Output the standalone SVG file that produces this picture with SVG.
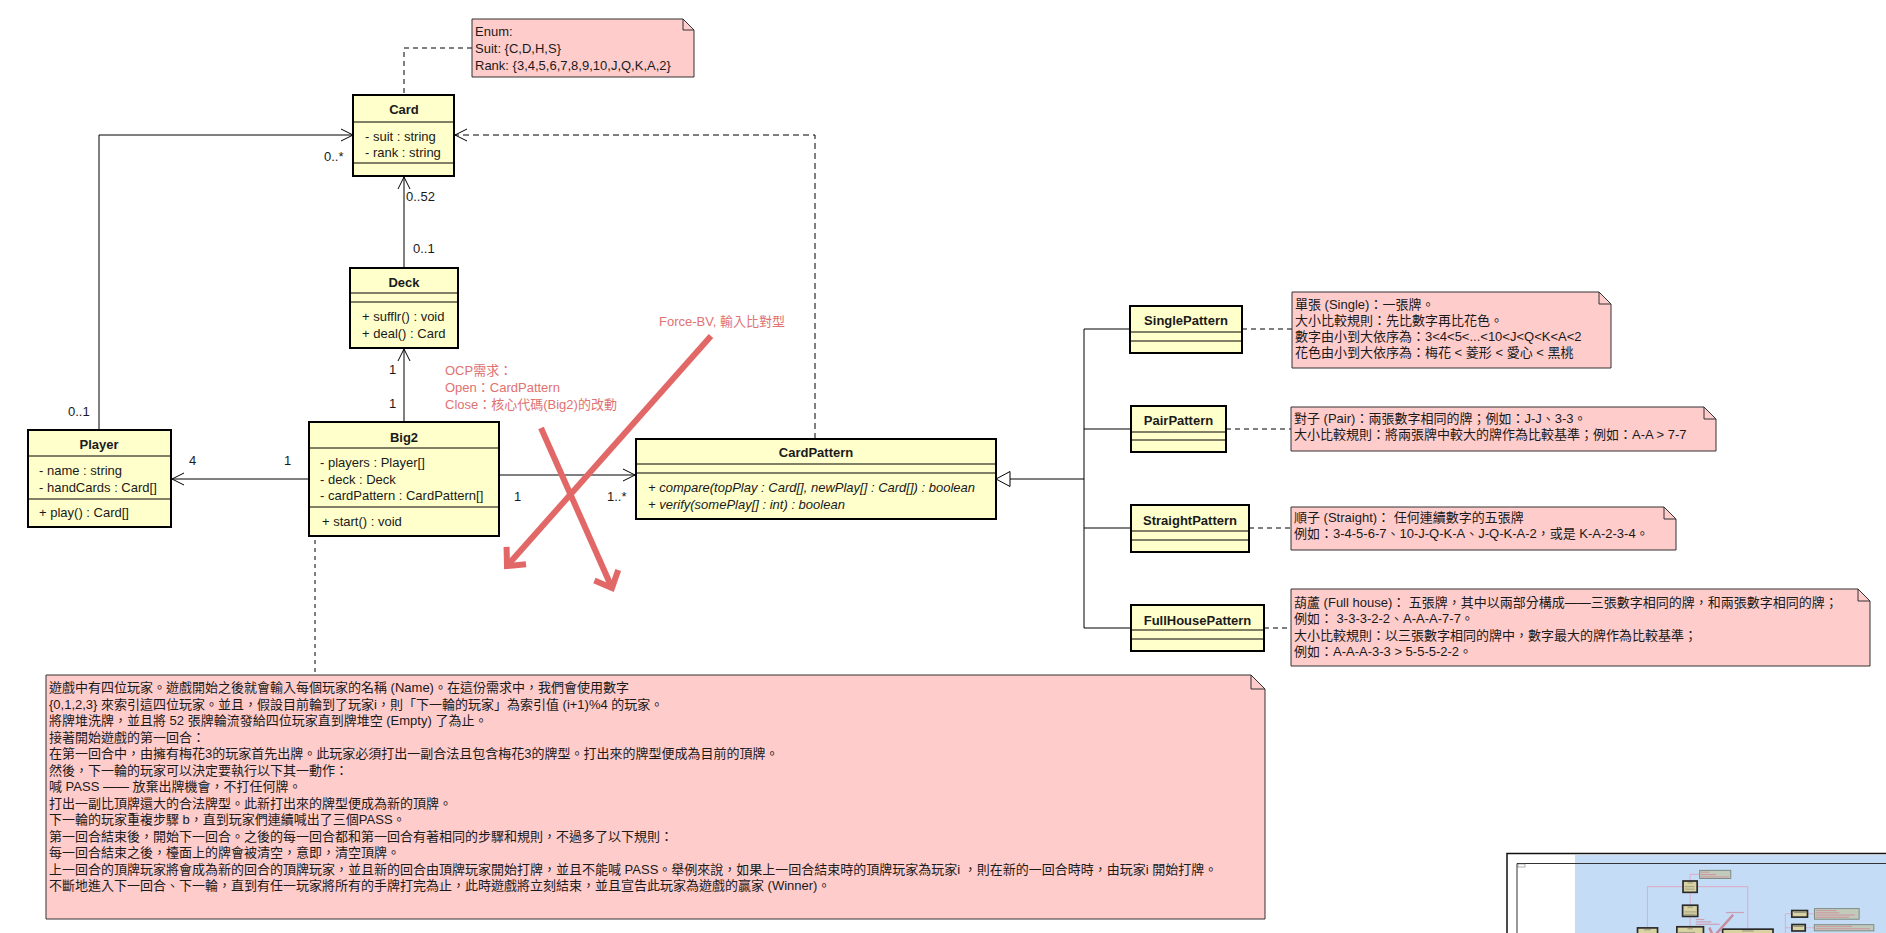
<svg xmlns="http://www.w3.org/2000/svg" width="1886" height="933" viewBox="0 0 1886 933">
  <style>
    .cls { fill: #ffffcc; stroke: #000; stroke-width: 2; }
    .sep { stroke: #000; stroke-width: 1; fill: none; }
    .t { font-family: "Liberation Sans", Arial, sans-serif; font-size: 13px; fill: #1a1a1a; }
    .title { font-weight: bold; text-anchor: middle; }
    .it { font-style: italic; }
    .note { fill: #ffcccc; stroke: #333; stroke-width: 1; }
    .fold { fill: none; stroke: #333; stroke-width: 1; }
    .nt { font-family: "Liberation Sans", "Noto Sans CJK TC", sans-serif; font-size: 13px; fill: #1a1a1a; }
    .red { font-family: "Liberation Sans", "Noto Sans CJK TC", sans-serif; font-size: 13px; fill: #e07272; }
    .line { fill: none; stroke: #000; stroke-width: 1; }
    .dash { fill: none; stroke: #000; stroke-width: 1; stroke-dasharray: 5 4; }
    .redArrow { fill: none; stroke: #e26767; stroke-width: 6; }
    .mmCls { fill: #d9d3a2; stroke: #2a2a2a; stroke-width: 12; }
    .mmNote { fill: #c2cbbb; stroke: #7d8b84; stroke-width: 7; }
    .mmLine { fill: none; stroke: #d8b2cb; stroke-width: 8; }
  </style>
  <defs>
    <marker id="openArrow" viewBox="-14 -8 16 16" refX="0" refY="0" markerWidth="16" markerHeight="16" orient="auto" markerUnits="userSpaceOnUse">
      <path d="M-12,-6 L0,0 L-12,6" fill="none" stroke="#000" stroke-width="1"/>
    </marker>
    <marker id="redHead" viewBox="-24 -20 30 40" refX="0" refY="0" markerWidth="30" markerHeight="40" orient="auto" markerUnits="userSpaceOnUse">
      <path d="M-14,-13 L0,0 L-14,13" fill="none" stroke="#e26767" stroke-width="6"/>
    </marker>
  </defs>

  <rect width="1886" height="933" fill="#fff"/>

  <!-- connectors -->
  <g id="connectors">
    <!-- Enum note anchor -->
    <path class="dash" d="M472,48 H404 V95"/>
    <!-- Player -> Card -->
    <path class="line" d="M99,430 V135 H353" marker-end="url(#openArrow)"/>
    <!-- CardPattern ..> Card (dependency) -->
    <path class="line" d="M815,439 V135 H455" stroke-dasharray="6 4" marker-end="url(#openArrow)"/>
    <!-- Deck -> Card -->
    <path class="line" d="M404,268 V177" marker-end="url(#openArrow)"/>
    <!-- Big2 -> Deck -->
    <path class="line" d="M404,422 V349" marker-end="url(#openArrow)"/>
    <!-- Big2 -> Player -->
    <path class="line" d="M309,479 H172" marker-end="url(#openArrow)"/>
    <!-- Big2 -> CardPattern -->
    <path class="line" d="M499,475 H635" marker-end="url(#openArrow)"/>
    <!-- Big2 requirement note anchor -->
    <circle cx="315" cy="521" r="2.5" fill="#000"/>
    <path class="line" d="M315,524 V675" stroke-dasharray="4 4"/>
    <!-- generalization tree -->
    <path class="line" d="M1010,479 H1084 M1084,329 V628 M1084,329 H1130 M1084,429 H1131 M1084,528 H1131 M1084,628 H1131"/>
    <polygon points="996,479 1010,471.5 1010,486.5" fill="#fff" stroke="#000" stroke-width="1"/>
    <!-- pattern note anchors -->
    <path class="dash" d="M1242,329 H1292 M1226,429 H1291 M1249,528 H1291 M1264,628 H1291"/>
    <!-- multiplicities -->
    <g class="t">
      <text x="324" y="161">0..*</text>
      <text x="68" y="416">0..1</text>
      <text x="406" y="201">0..52</text>
      <text x="413" y="253">0..1</text>
      <text x="389" y="374">1</text>
      <text x="389" y="408">1</text>
      <text x="189" y="465">4</text>
      <text x="284" y="465">1</text>
      <text x="514" y="501">1</text>
      <text x="607" y="501">1..*</text>
    </g>
  </g>

  <!-- classes -->
  <g id="Card">
    <rect class="cls" x="353" y="95" width="101" height="81"/>
    <path class="sep" d="M353,122 H454 M353,163 H454"/>
    <text class="t title" x="404" y="114">Card</text>
    <text class="t" x="365" y="141">- suit : string</text>
    <text class="t" x="365" y="157">- rank : string</text>
  </g>

  <g id="Deck">
    <rect class="cls" x="350" y="268" width="108" height="80"/>
    <path class="sep" d="M350,293 H458 M350,302 H458"/>
    <text class="t title" x="404" y="287">Deck</text>
    <text class="t" x="362" y="321">+ sufflr() : void</text>
    <text class="t" x="362" y="338">+ deal() : Card</text>
  </g>

  <g id="Player">
    <rect class="cls" x="28" y="430" width="143" height="97"/>
    <path class="sep" d="M28,456 H171 M28,499 H171"/>
    <text class="t title" x="99" y="449">Player</text>
    <text class="t" x="39" y="475">- name : string</text>
    <text class="t" x="39" y="492">- handCards : Card[]</text>
    <text class="t" x="39" y="517">+ play() : Card[]</text>
  </g>

  <g id="Big2">
    <rect class="cls" x="309" y="422" width="190" height="114"/>
    <path class="sep" d="M309,448 H499 M309,507 H499"/>
    <text class="t title" x="404" y="442">Big2</text>
    <text class="t" x="320" y="467">- players : Player[]</text>
    <text class="t" x="320" y="484">- deck : Deck</text>
    <text class="t" x="320" y="500">- cardPattern : CardPattern[]</text>
    <text class="t" x="322" y="526">+ start() : void</text>
  </g>

  <g id="CardPattern">
    <rect class="cls" x="636" y="439" width="360" height="80"/>
    <path class="sep" d="M636,464 H996 M636,473 H996"/>
    <text class="t title" x="816" y="457">CardPattern</text>
    <text class="t it" x="648" y="492">+ compare(topPlay : Card[], newPlay[] : Card[]) : boolean</text>
    <text class="t it" x="648" y="509">+ verify(somePlay[] : int) : boolean</text>
  </g>

  <g id="SinglePattern">
    <rect class="cls" x="1130" y="306" width="112" height="47"/>
    <path class="sep" d="M1130,332 H1242 M1130,341 H1242"/>
    <text class="t title" x="1186" y="325">SinglePattern</text>
  </g>

  <g id="PairPattern">
    <rect class="cls" x="1131" y="406" width="95" height="46"/>
    <path class="sep" d="M1131,432 H1226 M1131,440 H1226"/>
    <text class="t title" x="1178.5" y="425">PairPattern</text>
  </g>

  <g id="StraightPattern">
    <rect class="cls" x="1131" y="505" width="118" height="47"/>
    <path class="sep" d="M1131,531 H1249 M1131,540 H1249"/>
    <text class="t title" x="1190" y="525">StraightPattern</text>
  </g>

  <g id="FullHousePattern">
    <rect class="cls" x="1131" y="605" width="133" height="46"/>
    <path class="sep" d="M1131,630 H1264 M1131,639 H1264"/>
    <text class="t title" x="1197.5" y="625">FullHousePattern</text>
  </g>

  <!-- notes -->
  <g id="EnumNote">
    <path class="note" d="M472,19 H683 L694,30 V77 H472 Z"/>
    <path class="fold" d="M683,19 V30 H694"/>
    <text class="nt" x="475" y="36">Enum:</text>
    <text class="nt" x="475" y="53">Suit: {C,D,H,S}</text>
    <text class="nt" x="475" y="70">Rank: {3,4,5,6,7,8,9,10,J,Q,K,A,2}</text>
  </g>

  <g id="SingleNote">
    <path class="note" d="M1292,292 H1599 L1611,304 V368 H1292 Z"/>
    <path class="fold" d="M1599,292 V304 H1611"/>
    <text class="nt" x="1295" y="309">單張 (Single)：一張牌。</text>
    <text class="nt" x="1295" y="325">大小比較規則：先比數字再比花色。</text>
    <text class="nt" x="1295" y="341">數字由小到大依序為：3&lt;4&lt;5&lt;...&lt;10&lt;J&lt;Q&lt;K&lt;A&lt;2</text>
    <text class="nt" x="1295" y="357">花色由小到大依序為：梅花 &lt; 菱形 &lt; 愛心 &lt; 黑桃</text>
  </g>

  <g id="PairNote">
    <path class="note" d="M1291,407 H1704 L1716,419 V451 H1291 Z"/>
    <path class="fold" d="M1704,407 V419 H1716"/>
    <text class="nt" x="1294" y="423">對子 (Pair)：兩張數字相同的牌；例如：J-J、3-3。</text>
    <text class="nt" x="1294" y="439">大小比較規則：將兩張牌中較大的牌作為比較基準；例如：A-A &gt; 7-7</text>
  </g>

  <g id="StraightNote">
    <path class="note" d="M1291,507 H1664 L1676,519 V550 H1291 Z"/>
    <path class="fold" d="M1664,507 V519 H1676"/>
    <text class="nt" x="1294" y="522">順子 (Straight)： 任何連續數字的五張牌</text>
    <text class="nt" x="1294" y="538">例如：3-4-5-6-7、10-J-Q-K-A、J-Q-K-A-2，或是 K-A-2-3-4。</text>
  </g>

  <g id="FullHouseNote">
    <path class="note" d="M1291,589 H1858 L1870,601 V666 H1291 Z"/>
    <path class="fold" d="M1858,589 V601 H1870"/>
    <text class="nt" x="1294" y="607">葫蘆 (Full house)： 五張牌，其中以兩部分構成——三張數字相同的牌，和兩張數字相同的牌；</text>
    <text class="nt" x="1294" y="623">例如： 3-3-3-2-2、A-A-A-7-7。</text>
    <text class="nt" x="1294" y="640">大小比較規則：以三張數字相同的牌中，數字最大的牌作為比較基準；</text>
    <text class="nt" x="1294" y="656">例如：A-A-A-3-3 &gt; 5-5-5-2-2。</text>
  </g>

  <g id="RulesNote">
    <path class="note" d="M46,675 H1251 L1265,689 V919 H46 Z"/>
    <path class="fold" d="M1251,675 V689 H1265"/>
    <text class="nt" x="49" y="692">遊戲中有四位玩家。遊戲開始之後就會輸入每個玩家的名稱 (Name)。在這份需求中，我們會使用數字</text>
    <text class="nt" x="49" y="708.5">{0,1,2,3} 來索引這四位玩家。並且，假設目前輪到了玩家i，則「下一輪的玩家」為索引值 (i+1)%4 的玩家。</text>
    <text class="nt" x="49" y="725">將牌堆洗牌，並且將 52 張牌輪流發給四位玩家直到牌堆空 (Empty) 了為止。</text>
    <text class="nt" x="49" y="741.5">接著開始遊戲的第一回合：</text>
    <text class="nt" x="49" y="758">在第一回合中，由擁有梅花3的玩家首先出牌。此玩家必須打出一副合法且包含梅花3的牌型。打出來的牌型便成為目前的頂牌。</text>
    <text class="nt" x="49" y="774.5">然後，下一輪的玩家可以決定要執行以下其一動作：</text>
    <text class="nt" x="49" y="791">喊 PASS —— 放棄出牌機會，不打任何牌。</text>
    <text class="nt" x="49" y="807.5">打出一副比頂牌還大的合法牌型。此新打出來的牌型便成為新的頂牌。</text>
    <text class="nt" x="49" y="824">下一輪的玩家重複步驟 b，直到玩家們連續喊出了三個PASS。</text>
    <text class="nt" x="49" y="840.5">第一回合結束後，開始下一回合。之後的每一回合都和第一回合有著相同的步驟和規則，不過多了以下規則：</text>
    <text class="nt" x="49" y="857">每一回合結束之後，檯面上的牌會被清空，意即，清空頂牌。</text>
    <text class="nt" x="49" y="873.5">上一回合的頂牌玩家將會成為新的回合的頂牌玩家，並且新的回合由頂牌玩家開始打牌，並且不能喊 PASS。舉例來說，如果上一回合結束時的頂牌玩家為玩家i ，則在新的一回合時時，由玩家i 開始打牌。</text>
    <text class="nt" x="49" y="890">不斷地進入下一回合、下一輪，直到有任一玩家將所有的手牌打完為止，此時遊戲將立刻結束，並且宣告此玩家為遊戲的贏家 (Winner)。</text>
  </g>

  <!-- design annotations -->
  <g id="annotations">
    <text class="red" x="659" y="326">Force-BV, 輸入比對型</text>
    <text class="red" x="445" y="375">OCP需求：</text>
    <text class="red" x="445" y="392">Open：CardPattern</text>
    <text class="red" x="445" y="409">Close：核心代碼(Big2)的改動</text>
    <path class="redArrow" d="M711,336 L507,566" marker-end="url(#redHead)"/>
    <path class="redArrow" d="M541,428 L612,588" marker-end="url(#redHead)"/>
  </g>

  <!-- overview pane -->
  <g id="overview">
    <rect x="1575" y="855" width="320" height="90" fill="#c5dcf7"/>
    <path d="M1507,940 V853.5 H1890" fill="none" stroke="#111" stroke-width="1.5"/>
    <path d="M1517,940 V863.5 H1890" fill="none" stroke="#333" stroke-width="1"/>
    <rect x="1518" y="864" width="7" height="3" fill="#fff" stroke="#666" stroke-width="0.5"/>
    <g transform="translate(1633.6,867.7) scale(0.14)">
      <path class="mmLine" d="M472,48 H404 V95 M99,430 V135 H353 M815,439 V135 H455 M404,268 V177 M404,422 V349 M309,479 H172 M499,475 H635 M1010,479 H1084 M1084,329 V628 M1084,329 H1130 M1084,429 H1131 M1084,528 H1131 M1084,628 H1131 M1242,329 H1292 M1226,429 H1291 M1249,528 H1291 M1264,628 H1291 M315,524 V675"/>
      <rect class="mmCls" x="353" y="95" width="101" height="81"/>
      <rect class="mmCls" x="350" y="268" width="108" height="80"/>
      <rect class="mmCls" x="28" y="430" width="143" height="97"/>
      <rect class="mmCls" x="309" y="422" width="190" height="114"/>
      <rect class="mmCls" x="636" y="439" width="360" height="80"/>
      <rect class="mmCls" x="1130" y="306" width="112" height="47"/>
      <rect class="mmCls" x="1131" y="406" width="95" height="46"/>
      <rect class="mmCls" x="1131" y="505" width="118" height="47"/>
      <rect class="mmCls" x="1131" y="605" width="133" height="46"/>
      <rect class="mmNote" x="472" y="19" width="222" height="58"/>
      <rect class="mmNote" x="1292" y="292" width="319" height="76"/>
      <rect class="mmNote" x="1291" y="407" width="425" height="44"/>
      <rect class="mmNote" x="1291" y="507" width="385" height="43"/>
      <rect class="mmNote" x="46" y="675" width="1219" height="244"/>
      <path d="M711,336 L507,566 M541,428 L612,588" fill="none" stroke="#c98d9d" stroke-width="18"/>
      <g fill="#cf8f9f" opacity="0.8">
        <rect x="480" y="28" width="60" height="8"/>
        <rect x="480" y="45" width="110" height="8"/>
        <rect x="480" y="62" width="200" height="8"/>
        <rect x="1300" y="302" width="150" height="8"/>
        <rect x="1300" y="318" width="170" height="8"/>
        <rect x="1300" y="334" width="280" height="8"/>
        <rect x="1300" y="350" width="240" height="8"/>
        <rect x="1300" y="416" width="260" height="8"/>
        <rect x="1300" y="432" width="390" height="8"/>
        <rect x="1300" y="516" width="220" height="8"/>
        <rect x="1300" y="532" width="350" height="8"/>
        <rect x="659" y="316" width="128" height="8"/>
        <rect x="445" y="366" width="60" height="8"/>
        <rect x="445" y="383" width="110" height="8"/>
        <rect x="445" y="400" width="170" height="8"/>
      </g>
      <g fill="#777" opacity="0.7">
        <rect x="385" y="105" width="38" height="7"/>
        <rect x="365" y="133" width="70" height="6"/>
        <rect x="365" y="150" width="70" height="6"/>
        <rect x="385" y="278" width="38" height="7"/>
        <rect x="362" y="313" width="85" height="6"/>
        <rect x="362" y="330" width="80" height="6"/>
        <rect x="75" y="440" width="48" height="7"/>
        <rect x="39" y="467" width="100" height="6"/>
        <rect x="39" y="484" width="120" height="6"/>
        <rect x="385" y="433" width="38" height="7"/>
        <rect x="320" y="459" width="120" height="6"/>
        <rect x="320" y="492" width="170" height="6"/>
        <rect x="775" y="448" width="82" height="7"/>
        <rect x="648" y="484" width="330" height="6"/>
        <rect x="1145" y="316" width="85" height="7"/>
        <rect x="1142" y="416" width="72" height="7"/>
        <rect x="1142" y="515" width="95" height="7"/>
      </g>
    </g>
  </g>
</svg>
